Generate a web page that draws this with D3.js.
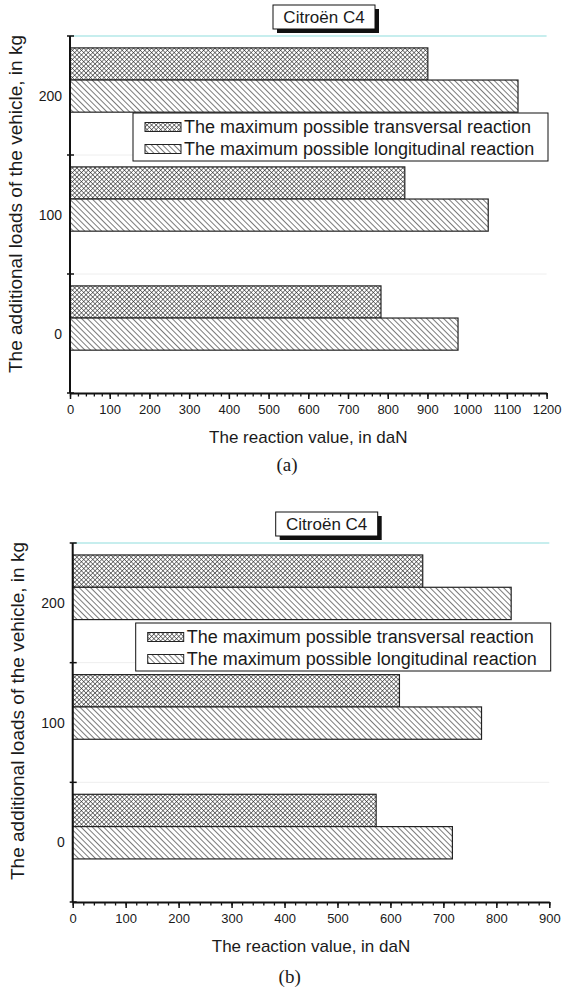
<!DOCTYPE html>
<html>
<head>
<meta charset="utf-8">
<script src="https://cdn.jsdelivr.net/npm/d3@7"></script>
<style>
  html, body { margin: 0; padding: 0; background: #fff; }
  svg { display: block; }
  text { font-family: "Liberation Sans", Arial, sans-serif; fill: #1a1a1a; }
</style>
</head>
<body>
<svg id="chart" width="563" height="989"></svg>
<script>
// ---------- data ----------
const categories = ["200", "100", "0"];           // top to bottom
const seriesNames = ["The maximum possible transversal reaction",
                     "The maximum possible longitudinal reaction"];
const seriesKeys = ["transversal", "longitudinal"];
const title = "Citroën C4";
const xTitle = "The reaction value, in daN";
const yTitle = "The additional loads of the vehicle, in kg";

// panel (a)
const transversalA  = { "0": 783, "100": 843, "200": 901 };
const longitudinalA = { "0": 977, "100": 1053, "200": 1128 };
const xTicksA = [0, 100, 200, 300, 400, 500, 600, 700, 800, 900, 1000, 1100, 1200];
// panel (b)
const transversalB  = { "0": 573, "100": 617, "200": 661 };
const longitudinalB = { "0": 717, "100": 772, "200": 828 };
const xTicksB = [0, 100, 200, 300, 400, 500, 600, 700, 800, 900];

const panels = [
  { label: "(a)", trans: transversalA, longi: longitudinalA, ticks: xTicksA,
    x0: 70, top: 36, bottom: 393, legendTop: 113, labelY: 471 },
  { label: "(b)", trans: transversalB, longi: longitudinalB, ticks: xTicksB,
    x0: 72.7, top: 543, bottom: 902, legendTop: 623, labelY: 983 }
];

const svg = d3.select("#chart");
const defs = svg.append("defs");

// hatch patterns
const diag = defs.append("pattern").attr("id", "diag")
  .attr("patternUnits", "userSpaceOnUse").attr("width", 4).attr("height", 4)
  .attr("patternTransform", "rotate(-45)");
diag.append("rect").attr("width", 4).attr("height", 4).attr("fill", "#fff");
diag.append("line").attr("x1", 0).attr("y1", 0).attr("x2", 0).attr("y2", 4)
  .attr("stroke", "#222").attr("stroke-width", 1.2);

const cross = defs.append("pattern").attr("id", "cross")
  .attr("patternUnits", "userSpaceOnUse").attr("width", 3.2).attr("height", 3.2)
  .attr("patternTransform", "rotate(45)");
cross.append("rect").attr("width", 3.2).attr("height", 3.2).attr("fill", "#fff");
cross.append("line").attr("x1", 0).attr("y1", 0).attr("x2", 0).attr("y2", 3.2)
  .attr("stroke", "#222").attr("stroke-width", 1.1);
cross.append("line").attr("x1", 0).attr("y1", 0).attr("x2", 3.2).attr("y2", 0)
  .attr("stroke", "#222").attr("stroke-width", 1.1);

const fills = { transversal: "url(#cross)", longitudinal: "url(#diag)" };

panels.forEach(p => {
  const g = svg.append("g");
  const xMax = p.ticks[p.ticks.length - 1];
  const x = d3.scaleLinear().domain([0, xMax]).range([p.x0, p.x0 + 476.6]);
  const y0 = d3.scaleBand().domain(categories).range([p.top, p.bottom]).padding(0);
  const bw = y0.bandwidth();
  const y1 = d3.scaleBand().domain(seriesKeys).range([0.1 * bw, 0.64 * bw]).padding(0);

  // band boundary grid lines
  const bounds = categories.map(c => y0(c)).concat([p.bottom]);
  g.selectAll(".grid").data(bounds.slice(1, -1)).enter().append("line")
    .attr("x1", p.x0).attr("x2", x(xMax))
    .attr("y1", d => d).attr("y2", d => d)
    .attr("stroke", "#eeeeee").attr("stroke-width", 1);
  // cyan top line
  g.append("line").attr("x1", p.x0).attr("x2", x(xMax))
    .attr("y1", p.top).attr("y2", p.top)
    .attr("stroke", "#8fdede").attr("stroke-width", 1.2);

  // bars
  categories.forEach(c => {
    const vals = { transversal: p.trans[c], longitudinal: p.longi[c] };
    seriesKeys.forEach(k => {
      g.append("rect")
        .attr("x", x(0)).attr("y", y0(c) + y1(k))
        .attr("width", x(vals[k]) - x(0)).attr("height", y1.bandwidth())
        .attr("fill", fills[k]).attr("stroke", "#222").attr("stroke-width", 1.2);
    });
    g.append("text").attr("x", p.x0 - 8).attr("y", y0(c) + bw / 2)
      .attr("text-anchor", "end").attr("dominant-baseline", "central")
      .attr("font-size", 14).text(c);
  });

  // y axis
  g.append("line").attr("x1", p.x0).attr("x2", p.x0).attr("y1", p.top).attr("y2", p.bottom)
    .attr("stroke", "#111").attr("stroke-width", 2);
  g.selectAll(".ytick").data(bounds).enter().append("line")
    .attr("x1", p.x0 - 3).attr("x2", p.x0 + 4)
    .attr("y1", d => d).attr("y2", d => d)
    .attr("stroke", "#111").attr("stroke-width", 1.5);

  // x axis: minor ticks
  const minor = d3.range(0, xMax + 1, 20);
  const axMinor = d3.axisBottom(x).tickValues(minor).tickSize(3.5).tickFormat("").tickSizeOuter(0);
  const gm = g.append("g").attr("transform", `translate(0,${p.bottom})`).call(axMinor);
  gm.select(".domain").remove();
  gm.selectAll("line").attr("stroke", "#111").attr("stroke-width", 1.3);

  const axMajor = d3.axisBottom(x).tickValues(p.ticks).tickFormat(d3.format("d"))
    .tickSize(6).tickSizeOuter(0).tickPadding(6);
  const ga = g.append("g").attr("transform", `translate(0,${p.bottom})`).call(axMajor);
  ga.attr("font-family", null).attr("font-size", null);
  ga.select(".domain").attr("stroke", "#111").attr("stroke-width", 2);
  ga.selectAll(".tick line").attr("stroke", "#111").attr("stroke-width", 1.5);
  ga.selectAll(".tick text").style("font-family", "'Liberation Sans', Arial, sans-serif")
    .style("font-size", "13px").attr("fill", "#1a1a1a");

  // axis titles
  g.append("text").attr("x", (x(0) + x(xMax)) / 2).attr("y", p.bottom + 50)
    .attr("text-anchor", "middle").attr("font-size", 17).text(xTitle);
  g.append("text")
    .attr("transform", `translate(${p.x0 - 55},${p.top + 168}) rotate(-90)`)
    .attr("text-anchor", "middle").attr("dominant-baseline", "central")
    .attr("font-size", 19).text(yTitle);

  // title box with shadow
  const tx = p.x0 + 203, ty = p.top - 31;
  g.append("rect").attr("x", tx + 4).attr("y", ty + 4).attr("width", 102).attr("height", 24)
    .attr("fill", "#111");
  g.append("rect").attr("x", tx).attr("y", ty).attr("width", 102).attr("height", 24)
    .attr("fill", "#fff").attr("stroke", "#111").attr("stroke-width", 1);
  g.append("text").attr("x", tx + 51).attr("y", ty + 12.5).attr("text-anchor", "middle")
    .attr("dominant-baseline", "central").attr("font-size", 17).text(title);

  // legend
  const lx = p.x0 + 63, ly = p.legendTop;
  g.append("rect").attr("x", lx).attr("y", ly).attr("width", 415).attr("height", 48)
    .attr("fill", "#fff").attr("stroke", "#111").attr("stroke-width", 1);
  seriesKeys.forEach((k, i) => {
    const cy = ly + 14 + i * 22;
    g.append("rect").attr("x", lx + 12).attr("y", cy - 4.5).attr("width", 36).attr("height", 9)
      .attr("fill", fills[k]).attr("stroke", "#222").attr("stroke-width", 1);
    g.append("text").attr("x", lx + 51).attr("y", cy).attr("dominant-baseline", "central")
      .attr("font-size", 18).text(seriesNames[i]);
  });

  // panel label
  svg.append("text").attr("x", 287 + (p.x0 - 70)).attr("y", p.labelY)
    .attr("text-anchor", "middle")
    .style("font-family", "'Liberation Serif', 'Times New Roman', serif")
    .attr("font-size", 19).text(p.label);
});
</script>
</body>
</html>
